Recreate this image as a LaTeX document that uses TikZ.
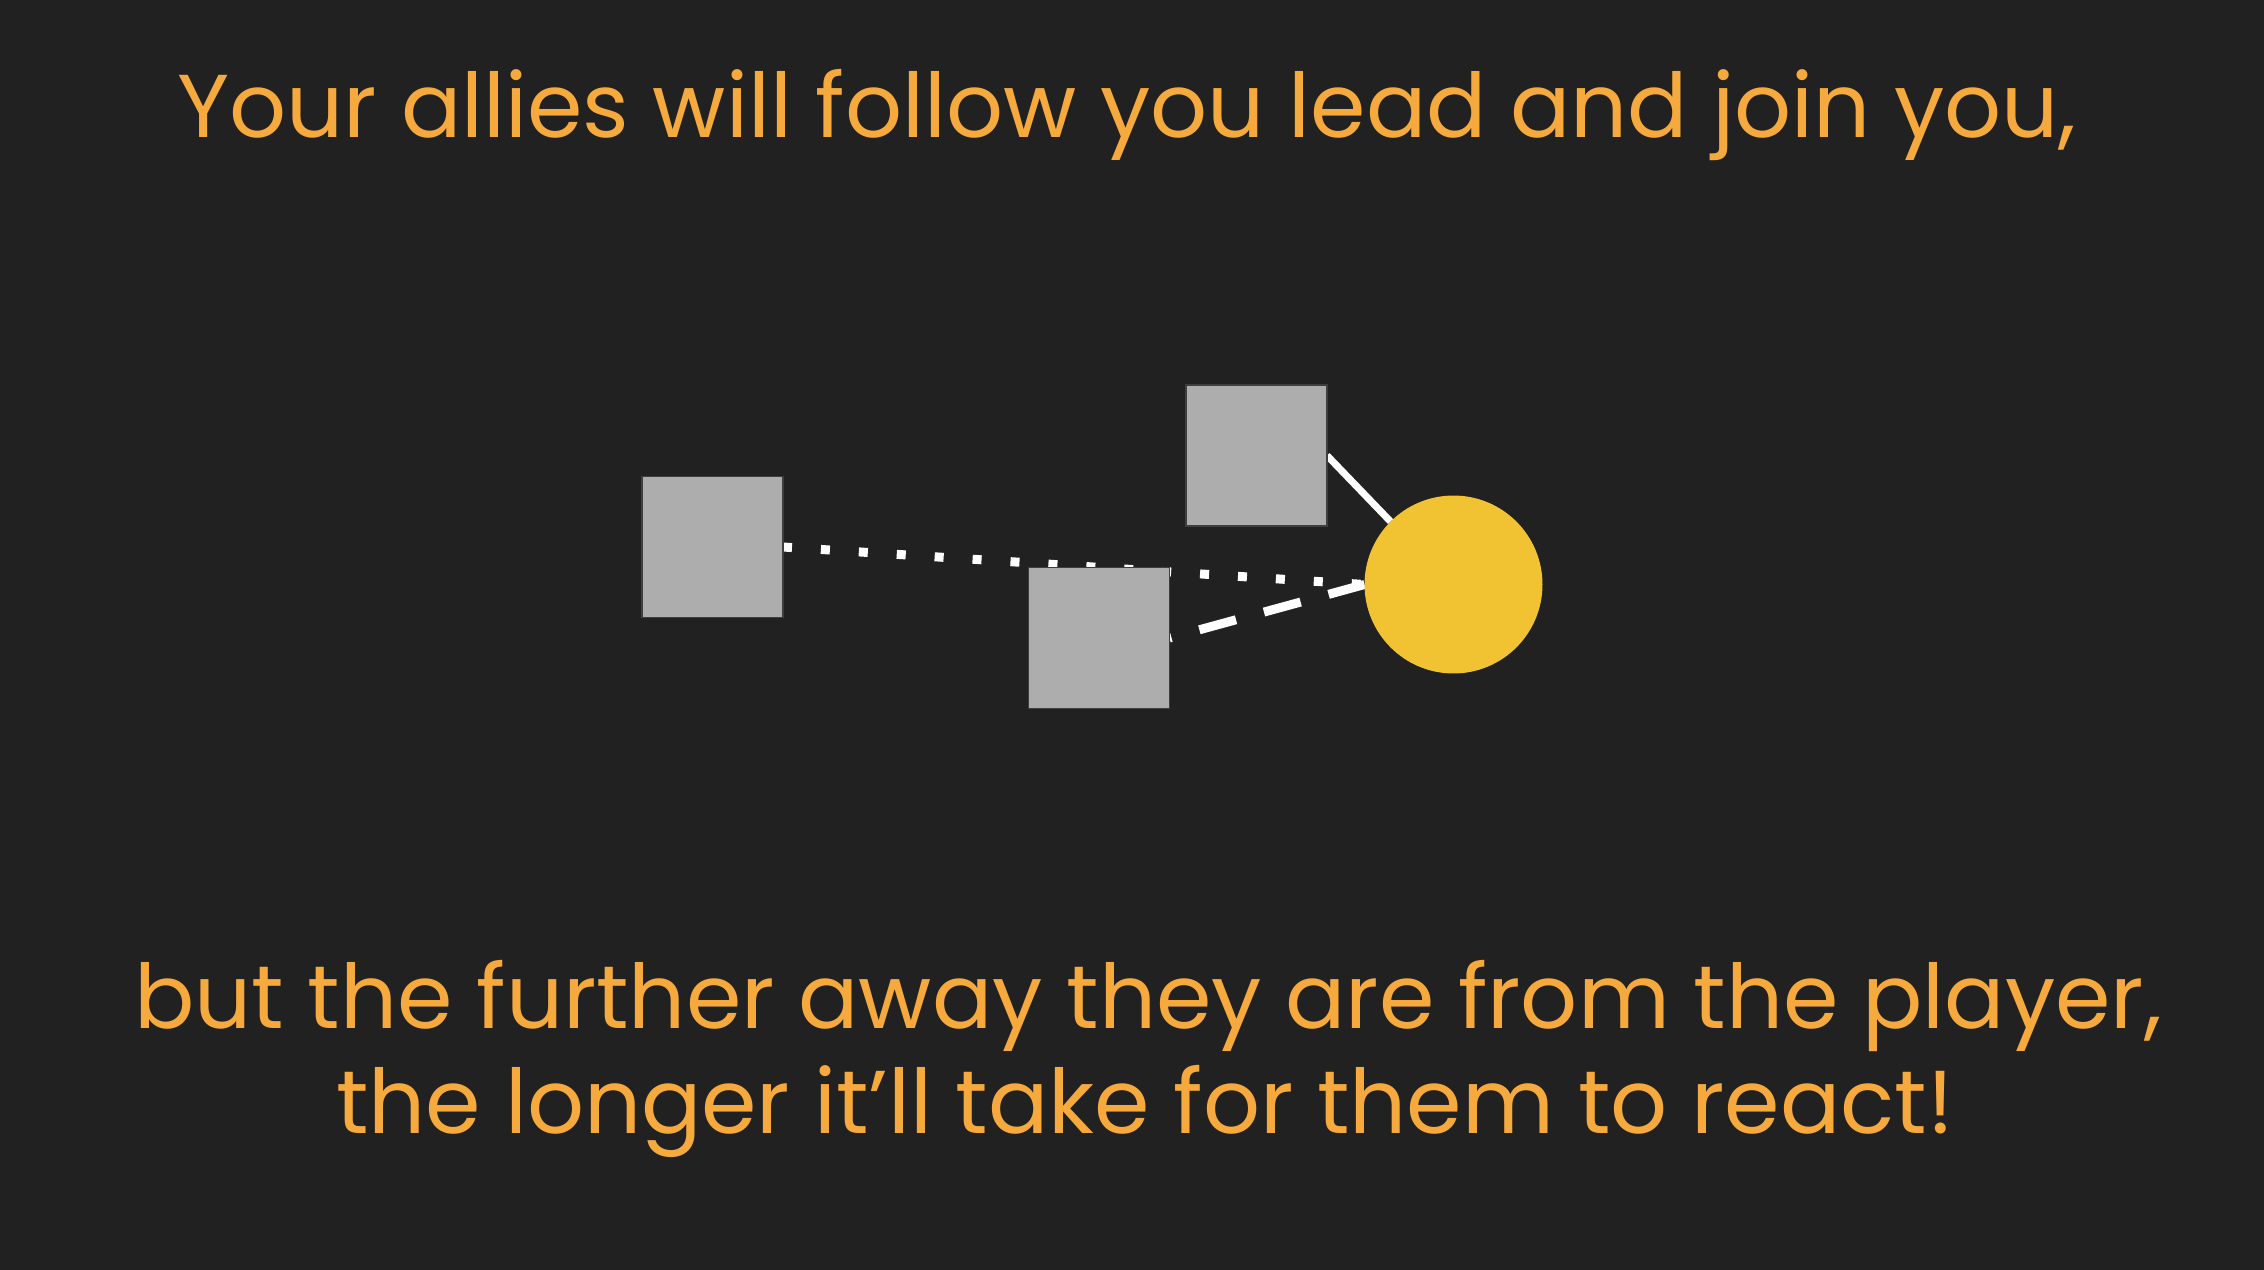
\documentclass[tikz,border=0pt]{standalone}
\usepackage{fontspec}
\setmainfont{Poppins}
\definecolor{bgc}{HTML}{212121}
\definecolor{txtc}{HTML}{F6AA3E}
\definecolor{sunc}{HTML}{F1C232}
\definecolor{boxc}{HTML}{ADADAD}
\definecolor{boxline}{HTML}{3E3E3E}
\pgfdeclarelayer{bglayer}
\pgfdeclarelayer{linelayer}
\pgfsetlayers{bglayer,linelayer,main}
\tikzset{
  ally/.style={draw=boxline, line width=1pt, fill=boxc, minimum size=2.82cm, inner sep=0pt, outer sep=0pt},
  player/.style={circle, fill=sunc, minimum size=3.56cm, inner sep=0pt, outer sep=0pt},
  caption/.style={text=txtc, font=\fontsize{50.8}{61}\selectfont, anchor=base, inner sep=0pt},
  link/.style={draw=white, line width=0.18cm},
  dotlink/.style={link, dash pattern=on 0.18cm off 0.58cm},
  dashlink/.style={link, dash pattern=on 0.76cm off 0.58cm, dash phase=0.72cm}
}
\begin{document}
\begin{tikzpicture}[x=0.02cm, y=-0.02cm]
\begin{pgfonlayer}{bglayer}
\fill[bgc] (0,0) rectangle (2264,1270);
\end{pgfonlayer}
\useasboundingbox (0,0) rectangle (2264,1270);
\node[caption] (t1) at (1127,138) {Your allies will follow you lead and join you,};
\node[caption] (t2) at (1148,1028) {but the further away they are from the player,};
\node[caption] (t3) at (1145,1133) {the longer it’ll take for them to react!};
\node[ally] (left) at (712.5,547) {};
\node[ally] (top) at (1256.5,455.5) {};
\node[ally] (mid) at (1099,638) {};
\node[player] (sun) at (1453.5,584.5) {};
\begin{pgfonlayer}{linelayer}
\draw[link, line width=0.14cm] (top.east) -- (sun.north west);
\draw[dotlink] (left.east) -- (sun.west);
\draw[dashlink] (mid.east) -- (sun.west);
\end{pgfonlayer}
\end{tikzpicture}
\end{document}
